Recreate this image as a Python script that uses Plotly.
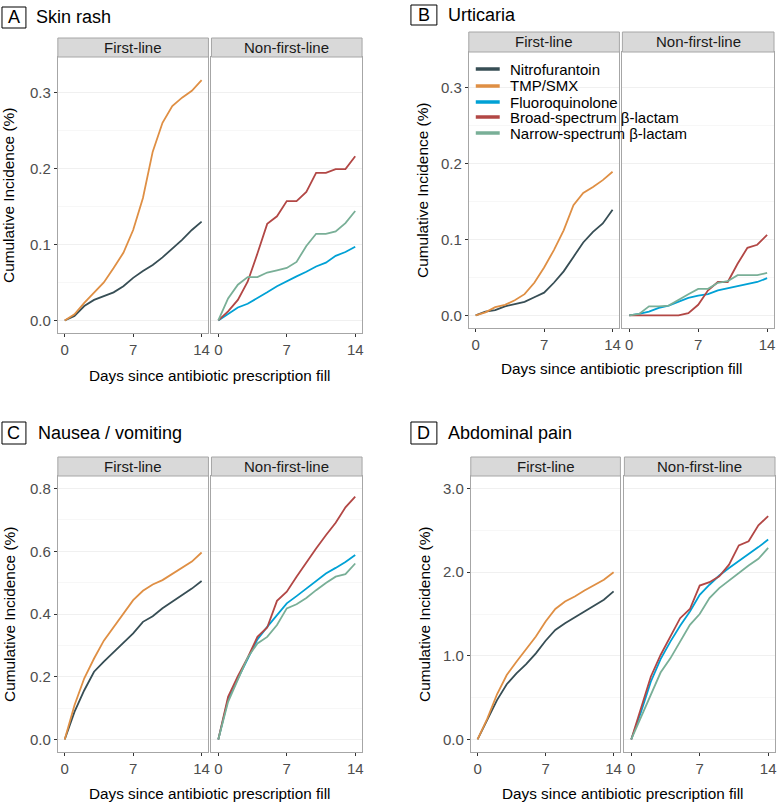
import plotly.graph_objects as go

# ---------------- data ----------------
days = list(range(15))
drug_names = ["Nitrofurantoin", "TMP/SMX", "Fluoroquinolone",
              "Broad-spectrum β-lactam", "Narrow-spectrum β-lactam"]
facet_labels = ["First-line", "Non-first-line"]
panel_letters = ["A", "B", "C", "D"]
panel_titles = ["Skin rash", "Urticaria", "Nausea / vomiting", "Abdominal pain"]
x_title = "Days since antibiotic prescription fill"
y_title = "Cumulative Incidence (%)"
x_tickvals = [0, 7, 14]

rash_nitro = [0, 0.006, 0.019, 0.027, 0.032, 0.037, 0.045, 0.056, 0.065, 0.073, 0.083, 0.094, 0.106, 0.119, 0.130]
rash_tmp = [0, 0.008, 0.023, 0.036, 0.050, 0.069, 0.089, 0.119, 0.161, 0.222, 0.260, 0.282, 0.293, 0.302, 0.316]
rash_fq = [0, 0.009, 0.017, 0.022, 0.029, 0.037, 0.045, 0.052, 0.058, 0.064, 0.071, 0.076, 0.085, 0.090, 0.097]
rash_broad = [0, 0.012, 0.027, 0.051, 0.088, 0.127, 0.137, 0.157, 0.157, 0.169, 0.194, 0.194, 0.199, 0.199, 0.216]
rash_narrow = [0, 0.029, 0.047, 0.057, 0.057, 0.063, 0.066, 0.069, 0.077, 0.098, 0.114, 0.114, 0.117, 0.128, 0.144]

urt_nitro = [0, 0.005, 0.007, 0.012, 0.015, 0.018, 0.024, 0.030, 0.043, 0.058, 0.077, 0.096, 0.110, 0.121, 0.139]
urt_tmp = [0, 0.004, 0.011, 0.014, 0.020, 0.028, 0.043, 0.063, 0.086, 0.112, 0.145, 0.161, 0.169, 0.178, 0.189]
urt_fq = [0, 0.002, 0.005, 0.010, 0.013, 0.018, 0.023, 0.026, 0.028, 0.033, 0.036, 0.039, 0.041, 0.044, 0.049]
urt_broad = [0, 0, 0, 0, 0, 0, 0.003, 0.014, 0.033, 0.044, 0.044, 0.068, 0.089, 0.093, 0.106]
urt_narrow = [0, 0.002, 0.012, 0.012, 0.013, 0.021, 0.028, 0.035, 0.035, 0.043, 0.045, 0.053, 0.053, 0.053, 0.056]

nv_nitro = [0, 0.088, 0.157, 0.216, 0.248, 0.279, 0.308, 0.338, 0.375, 0.393, 0.418, 0.439, 0.460, 0.481, 0.505]
nv_tmp = [0, 0.109, 0.195, 0.258, 0.315, 0.359, 0.404, 0.444, 0.474, 0.494, 0.508, 0.527, 0.547, 0.567, 0.596]
nv_fq = [0, 0.128, 0.194, 0.258, 0.319, 0.359, 0.396, 0.434, 0.457, 0.481, 0.506, 0.529, 0.547, 0.566, 0.588]
nv_broad = [0, 0.136, 0.202, 0.261, 0.327, 0.357, 0.442, 0.471, 0.519, 0.566, 0.609, 0.651, 0.691, 0.740, 0.774]
nv_narrow = [0, 0.120, 0.191, 0.261, 0.306, 0.327, 0.365, 0.418, 0.431, 0.451, 0.476, 0.499, 0.519, 0.527, 0.561]

ab_nitro = [0, 0.23, 0.47, 0.66, 0.79, 0.90, 1.03, 1.18, 1.31, 1.39, 1.46, 1.52, 1.59, 1.67, 1.77]
ab_tmp = [0, 0.25, 0.54, 0.77, 0.93, 1.08, 1.23, 1.41, 1.56, 1.65, 1.71, 1.78, 1.84, 1.91, 2.00]
ab_fq = [0, 0.33, 0.69, 0.96, 1.17, 1.36, 1.53, 1.73, 1.85, 1.96, 2.05, 2.13, 2.21, 2.30, 2.39]
ab_broad = [0, 0.37, 0.75, 1.01, 1.23, 1.45, 1.56, 1.84, 1.88, 1.95, 2.09, 2.32, 2.37, 2.56, 2.67]
ab_narrow = [0, 0.27, 0.55, 0.80, 0.97, 1.17, 1.37, 1.50, 1.69, 1.81, 1.90, 2.00, 2.08, 2.16, 2.29]

panel_series = [
    [rash_nitro, rash_tmp, rash_fq, rash_broad, rash_narrow],
    [urt_nitro, urt_tmp, urt_fq, urt_broad, urt_narrow],
    [nv_nitro, nv_tmp, nv_fq, nv_broad, nv_narrow],
    [ab_nitro, ab_tmp, ab_fq, ab_broad, ab_narrow],
]
y_limits = [[0, 0.33], [0, 0.33], [0, 0.8], [0, 3.0]]
y_majors = [[0, 0.1, 0.2, 0.3], [0, 0.1, 0.2, 0.3], [0, 0.2, 0.4, 0.6, 0.8], [0, 1.0, 2.0, 3.0]]

# ---------------- styling / layout (pixels) ----------------
W, H = 779, 803
drug_colors = ["#374E55", "#DF8F44", "#00A1D5", "#B24745", "#79AF97"]
facet_drugs = [[0, 1], [2, 3, 4]]
FONT = "Liberation Sans, Arial, sans-serif"

geom = [
    dict(box=(2, 7, 26, 28), title_x=34, strip=(38, 57), facets=[(58, 209), (212, 363)],
         bottom=333, xtitle_y=375, ytitle_x=9),
    dict(box=(412, 5, 438, 25), title_x=447, strip=(32, 52), facets=[(470, 621), (624, 776)],
         bottom=328, xtitle_y=368, ytitle_x=423),
    dict(box=(2, 422, 26, 444), title_x=36, strip=(457, 476), facets=[(58, 209), (212, 363)],
         bottom=752, xtitle_y=793, ytitle_x=9),
    dict(box=(412, 422, 438, 444), title_x=447, strip=(457, 476), facets=[(472, 622), (626, 777)],
         bottom=752, xtitle_y=793, ytitle_x=425),
]


def px(x):
    return x / W


def py(y):
    return 1 - y / H


fig = go.Figure()
shapes = []
annotations = []
layout_axes = {}

ax_i = 0
for p in range(4):
    g = geom[p]
    lo, hi = y_limits[p]
    pad = (hi - lo) * 0.05
    yr = [lo - pad, hi + pad]
    for f in range(2):
        ax_i += 1
        xa = "x" if ax_i == 1 else f"x{ax_i}"
        ya = "y" if ax_i == 1 else f"y{ax_i}"
        x0, x1 = g["facets"][f]
        for d in facet_drugs[f]:
            fig.add_trace(go.Scatter(
                x=days, y=panel_series[p][d], mode="lines",
                line=dict(color=drug_colors[d], width=1.8),
                name=drug_names[d], showlegend=False,
                xaxis=xa, yaxis=ya, hoverinfo="skip"))
        major = y_majors[p]
        minor_step = (major[1] - major[0]) / 2
        layout_axes["xaxis" if ax_i == 1 else f"xaxis{ax_i}"] = dict(
            domain=[px(x0), px(x1)], anchor=ya, range=[-0.7, 14.7],
            tickvals=x_tickvals, ticktext=[str(v) for v in x_tickvals],
            ticks="outside", ticklen=3, tickcolor="#333333", tickwidth=1,
            showgrid=False, zeroline=False, showline=True, mirror=True,
            linecolor="#A6A6A6", linewidth=1,
            tickfont=dict(family=FONT, size=15, color="#4D4D4D"))
        layout_axes["yaxis" if ax_i == 1 else f"yaxis{ax_i}"] = dict(
            domain=[py(g["bottom"]), py(g["strip"][1])], anchor=xa, range=yr,
            tickvals=major, ticktext=[f"{v:.1f}" for v in major],
            ticks="outside" if f == 0 else "", ticklen=3, tickcolor="#333333",
            showticklabels=(f == 0),
            showgrid=True, gridcolor="#F0F0F0", gridwidth=1,
            minor=dict(dtick=minor_step, tick0=0, showgrid=True, gridcolor="#F7F7F7", gridwidth=1),
            zeroline=False, showline=True, mirror=True,
            linecolor="#A6A6A6", linewidth=1,
            tickfont=dict(family=FONT, size=15, color="#4D4D4D"))
        # facet strip
        s0, s1 = g["strip"]
        shapes.append(dict(type="rect", xref="paper", yref="paper",
                           x0=px(x0), x1=px(x1), y0=py(s1), y1=py(s0),
                           fillcolor="#D9D9D9", line=dict(color="#A6A6A6", width=1), layer="above"))
        annotations.append(dict(xref="paper", yref="paper", x=px((x0 + x1) / 2), y=py((s0 + s1) / 2),
                                text=facet_labels[f], showarrow=False, xanchor="center", yanchor="middle",
                                font=dict(family=FONT, size=15, color="#1A1A1A")))
    # panel letter box + title
    bx0, by0, bx1, by1 = g["box"]
    shapes.append(dict(type="rect", xref="paper", yref="paper",
                       x0=px(bx0), x1=px(bx1), y0=py(by1), y1=py(by0),
                       line=dict(color="#000000", width=1), fillcolor="rgba(0,0,0,0)"))
    annotations.append(dict(xref="paper", yref="paper", x=px((bx0 + bx1) / 2), y=py((by0 + by1) / 2),
                            text=panel_letters[p], showarrow=False, xanchor="center", yanchor="middle",
                            font=dict(family=FONT, size=18, color="#000000")))
    annotations.append(dict(xref="paper", yref="paper", x=px(g["title_x"]), y=py((by0 + by1) / 2),
                            text=panel_titles[p], showarrow=False, xanchor="left", yanchor="middle",
                            font=dict(family=FONT, size=18, color="#000000")))
    # axis titles
    fx0 = g["facets"][0][0]
    fx1 = g["facets"][1][1]
    annotations.append(dict(xref="paper", yref="paper", x=px((fx0 + fx1) / 2), y=py(g["xtitle_y"]),
                            text=x_title, showarrow=False, xanchor="center", yanchor="middle",
                            font=dict(family=FONT, size=15.3, color="#000000")))
    annotations.append(dict(xref="paper", yref="paper", x=px(g["ytitle_x"]),
                            y=py((g["strip"][1] + g["bottom"]) / 2),
                            text=y_title, showarrow=False, textangle=-90, xanchor="center", yanchor="middle",
                            font=dict(family=FONT, size=15.4, color="#000000")))

# manual legend inside panel B first-line facet
leg_x0, leg_x1, leg_tx = 477, 501, 509
leg_rows = [69, 86, 102, 117, 133]
for i, name in enumerate(drug_names):
    shapes.append(dict(type="line", xref="paper", yref="paper",
                       x0=px(leg_x0), x1=px(leg_x1), y0=py(leg_rows[i]), y1=py(leg_rows[i]),
                       line=dict(color=drug_colors[i], width=3.5)))
    annotations.append(dict(xref="paper", yref="paper", x=px(leg_tx), y=py(leg_rows[i]),
                            text=name, showarrow=False, xanchor="left", yanchor="middle",
                            font=dict(family=FONT, size=15, color="#000000")))

fig.update_layout(
    width=W, height=H, autosize=False,
    margin=dict(l=0, r=0, t=0, b=0, pad=0),
    paper_bgcolor="white", plot_bgcolor="white",
    showlegend=False,
    shapes=shapes, annotations=annotations,
    **layout_axes)

fig.write_html("out.html", config={"displayModeBar": False},
               post_script="document.body.style.margin='0';document.body.style.overflow='hidden';")
